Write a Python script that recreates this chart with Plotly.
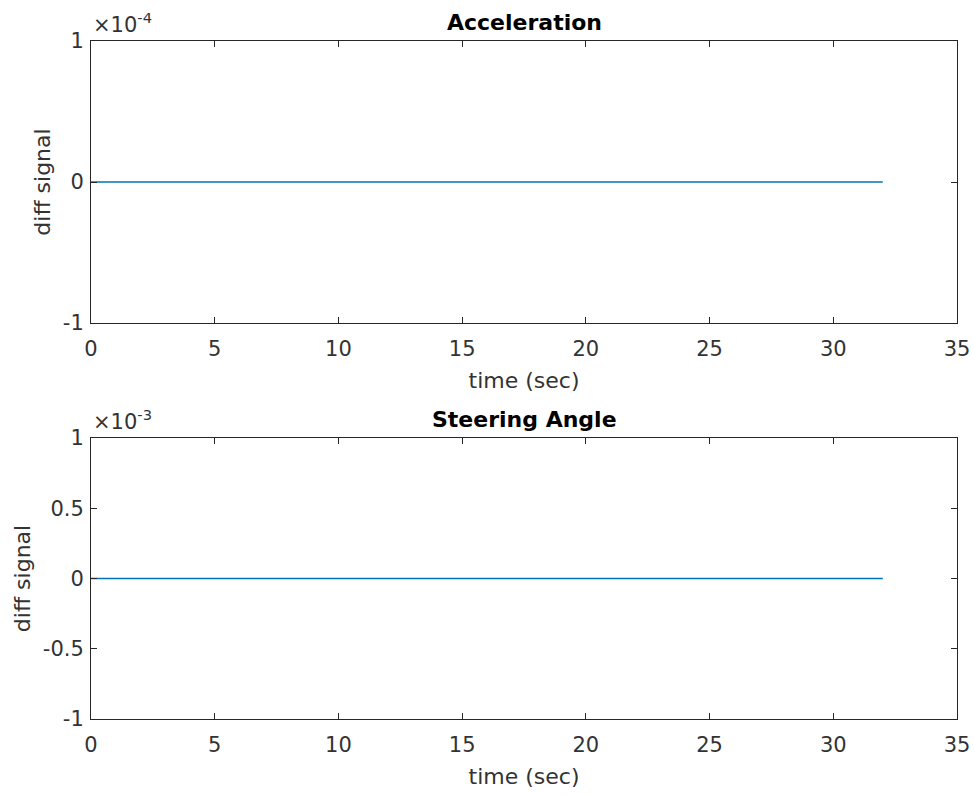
import plotly.graph_objects as go
from plotly.subplots import make_subplots

time_sec = [0, 4, 8, 12, 16, 20, 24, 28, 32]
accel_diff = [0, 0, 0, 0, 0, 0, 0, 0, 0]
steer_diff = [0, 0, 0, 0, 0, 0, 0, 0, 0]

x_ticks = [0, 5, 10, 15, 20, 25, 30, 35]
acc_yticks = [-1e-4, 0, 1e-4]
acc_yticklabels = ["-1", "0", "1"]
steer_yticks = [-1e-3, -0.5e-3, 0, 0.5e-3, 1e-3]
steer_yticklabels = ["-1", "-0.5", "0", "0.5", "1"]

LINE = "#0072BD"
AX = "#262626"
TXT = "#333333"
FONT = "DejaVu Sans, sans-serif"

fig = make_subplots(rows=2, cols=1)
fig.add_trace(go.Scatter(x=time_sec, y=accel_diff, mode="lines",
                         line=dict(color=LINE, width=1.5), showlegend=False), row=1, col=1)
fig.add_trace(go.Scatter(x=time_sec, y=steer_diff, mode="lines",
                         line=dict(color=LINE, width=1.5), showlegend=False), row=2, col=1)

common_x = dict(range=[0, 35], tickvals=x_ticks, ticks="inside", ticklen=6,
                tickcolor=AX, showline=True, linecolor=AX, linewidth=1,
                mirror="ticks", showgrid=False, zeroline=False, automargin=False,
                ticklabelstandoff=7, ticklabeloverflow="allow",
                tickfont=dict(family=FONT, size=21, color=TXT),
                title=dict(text="time (sec)", font=dict(family=FONT, size=22, color=TXT), standoff=12))
common_y = dict(ticks="inside", ticklen=6, tickcolor=AX, showline=True, linecolor=AX,
                linewidth=1, mirror="ticks", showgrid=False, zeroline=False, automargin=False,
                ticklabelstandoff=2,
                tickfont=dict(family=FONT, size=21, color=TXT),
                title=dict(text="diff signal", font=dict(family=FONT, size=22, color=TXT), standoff=6))

fig.update_xaxes(**common_x, row=1, col=1)
fig.update_xaxes(**common_x, row=2, col=1)
fig.update_yaxes(**common_y, range=[-1e-4, 1e-4], tickvals=acc_yticks,
                 ticktext=acc_yticklabels, row=1, col=1)
fig.update_yaxes(**common_y, range=[-1e-3, 1e-3], tickvals=steer_yticks,
                 ticktext=steer_yticklabels, row=2, col=1)

fig.update_layout(
    width=974, height=795,
    margin=dict(l=91, r=17, t=41, b=76, autoexpand=False),
    paper_bgcolor="white", plot_bgcolor="white",
    font=dict(family=FONT, color=TXT),
)
fig.layout.yaxis.domain = [0.584, 1.0]
fig.layout.yaxis2.domain = [0.0, 0.4145]

fig.add_annotation(text="<b>Acceleration</b>", xref="x domain", yref="y domain",
                   x=0.5, y=1.0, yshift=4, xanchor="center", yanchor="bottom",
                   showarrow=False, font=dict(family=FONT, size=22, color="#000000"))
fig.add_annotation(text="<b>Steering Angle</b>", xref="x2 domain", yref="y2 domain",
                   x=0.5, y=1.0, yshift=4, xanchor="center", yanchor="bottom",
                   showarrow=False, font=dict(family=FONT, size=22, color="#000000"))
fig.add_annotation(text="×10<sup>-4</sup>", xref="x domain", yref="y domain",
                   x=0.0, y=1.0, yshift=2, xshift=0, xanchor="left", yanchor="bottom",
                   showarrow=False, font=dict(family=FONT, size=21, color=TXT))
fig.add_annotation(text="×10<sup>-3</sup>", xref="x2 domain", yref="y2 domain",
                   x=0.0, y=1.0, yshift=2, xshift=0, xanchor="left", yanchor="bottom",
                   showarrow=False, font=dict(family=FONT, size=21, color=TXT))

fig.write_html("out.html", config={"displayModeBar": False},
               post_script="document.body.style.margin='0';document.body.style.overflow='hidden';")
